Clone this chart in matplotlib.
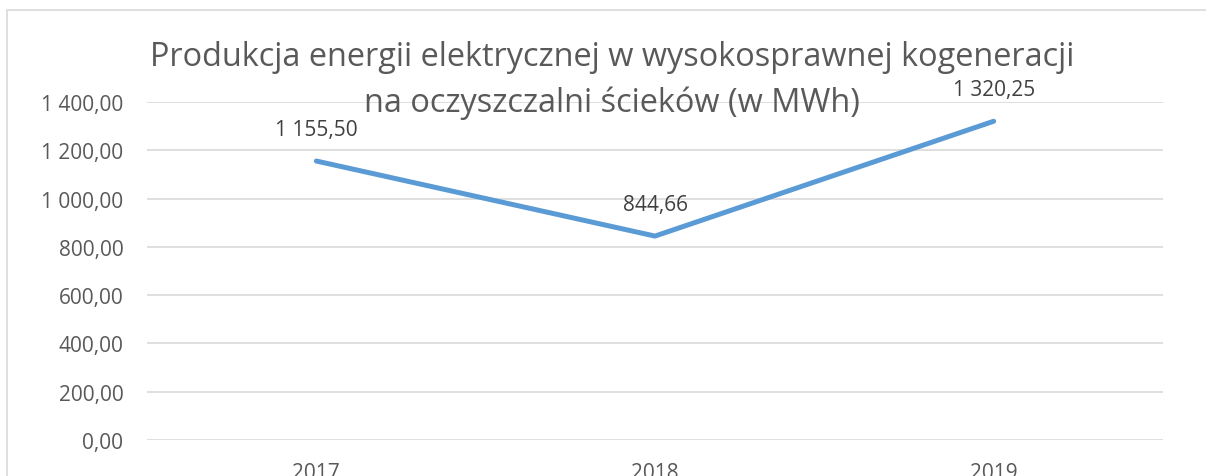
import matplotlib
matplotlib.use("Agg")
import matplotlib.pyplot as plt
from matplotlib.patches import Rectangle
from matplotlib.ticker import FuncFormatter

years = ["2017", "2018", "2019"]
values = [1155.50, 844.66, 1320.25]
title_line1 = "Produkcja energii elektrycznej w wysokosprawnej kogeneracji"
title_line2 = "na oczyszczalni ścieków (w MWh)"

W, H = 1206, 477
plt.rcParams['font.family'] = ['Open Sans', 'DejaVu Sans']
TXT = '#595959'

def pl(v):
    s = f"{v:,.2f}"
    return s.replace(",", " ").replace(".", ",")

fig = plt.figure(figsize=(W/100, H/100), dpi=100)
fig.patches.append(Rectangle((7/W, -0.1), 1.2, (H - 11)/H + 0.1, transform=fig.transFigure,
                             fill=False, edgecolor='#D9D9D9', linewidth=1.2))

x0, x1 = 147, 1163
ytop, ybot = 103, 441
ax = fig.add_axes([x0/W, (H - ybot)/H, (x1 - x0)/W, (ybot - ytop)/H])
xs = list(range(len(years)))
ax.plot(xs, values, color='#5B9BD5', linewidth=3.6, solid_capstyle='round', zorder=3)
ax.set_xlim(-0.5, len(years) - 0.5)
ax.set_ylim(0, 1400)
ax.set_yticks(range(0, 1401, 200))
ax.yaxis.set_major_formatter(FuncFormatter(lambda v, p: pl(v)))
ax.set_xticks(xs)
ax.set_xticklabels(years)
ax.grid(axis='y', color='#D9D9D9', linewidth=1.2)
ax.set_axisbelow(True)
for s in ax.spines.values():
    s.set_visible(False)
ax.tick_params(axis='both', length=0, labelsize=15, labelcolor=TXT)
ax.tick_params(axis='y', pad=17)
ax.tick_params(axis='x', pad=16)

for x, v in zip(xs, values):
    ax.annotate(pl(v), (x, v), xytext=(0, 32), textcoords='offset pixels',
                ha='center', va='center', fontsize=15, color='#404040')

fig.text(612/W, 1 - 57/H, title_line1, ha='center', va='center', fontsize=23.4, color=TXT)
fig.text(612/W, 1 - 103/H, title_line2, ha='center', va='center', fontsize=23.4, color=TXT)

fig.savefig("out.png", dpi=100)
